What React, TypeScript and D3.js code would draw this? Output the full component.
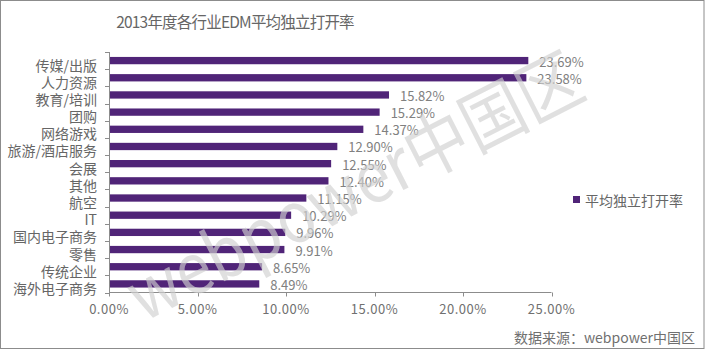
import React from "react";
import * as d3 from "d3";

const categories = [
  "传媒/出版",
  "人力资源",
  "教育/培训",
  "团购",
  "网络游戏",
  "旅游/酒店服务",
  "会展",
  "其他",
  "航空",
  "IT",
  "国内电子商务",
  "零售",
  "传统企业",
  "海外电子商务",
];
const values = [23.69, 23.58, 15.82, 15.29, 14.37, 12.9, 12.55, 12.4, 11.15, 10.29, 9.96, 9.91, 8.65, 8.49];
const xTicks = [0, 5, 10, 15, 20, 25];
const title = "2013年度各行业EDM平均独立打开率";
const seriesName = "平均独立打开率";
const source = "数据来源：webpower中国区";
const watermark = "webpower中国区";

const W = 705;
const H = 355;
const FONT = "'Noto Sans CJK SC', 'Noto Sans', sans-serif";
const BAR = "#502478";
const AXIS = "#8c8c8c";

export default function App() {
  const x = d3.scaleLinear().domain([0, 25]).range([109, 551.5]);
  const y = d3
    .scaleBand<string>()
    .domain(categories)
    .range([52, 292.5])
    .paddingInner(0.575)
    .paddingOuter(0.2875);
  const step = y.step();
  const y0 = 52;
  const yBottom = 292.5;
  const fmt = (v: number) => v.toFixed(2) + "%";

  return (
    <svg
      width={W}
      height={H}
      style={{ position: "absolute", left: 0, top: 0, background: "#fff" }}
      fontFamily={FONT}
    >
      <rect x={0} y={0} width={W} height={H} fill="#fff" />
      <rect x={0.5} y={0.5} width={703.5} height={348} fill="none" stroke="#8c8c8c" strokeWidth={1} />

      <text
        x={235}
        y={21}
        textAnchor="middle"
        dominantBaseline="central"
        fontSize={15.5}
        fill="#666"
        letterSpacing={-0.8}
      >
        {title}
      </text>

      {/* bars */}
      {categories.map((c, i) => (
        <rect key={c} x={x(0)} y={y(c)} width={x(values[i]) - x(0)} height={y.bandwidth()} fill={BAR} />
      ))}

      {/* y axis */}
      <line x1={x(0) + 0.5} x2={x(0) + 0.5} y1={y0} y2={yBottom} stroke={AXIS} />
      {d3.range(categories.length + 1).map((i) => (
        <line
          key={"yt" + i}
          x1={x(0) - 4}
          x2={x(0)}
          y1={Math.round(y0 + i * step) + 0.5}
          y2={Math.round(y0 + i * step) + 0.5}
          stroke={AXIS}
        />
      ))}
      {categories.map((c) => (
        <text
          key={"l" + c}
          x={97}
          y={(y(c) as number) + y.bandwidth() / 2 + 4}
          textAnchor="end"
          dominantBaseline="central"
          fontSize={14}
          fill="#666"
        >
          {c}
        </text>
      ))}

      {/* x axis */}
      <line x1={x(0)} x2={x(25)} y1={yBottom} y2={yBottom} stroke={AXIS} />
      {xTicks.map((t) => (
        <g key={"xt" + t}>
          <line x1={Math.round(x(t)) + 0.5} x2={Math.round(x(t)) + 0.5} y1={yBottom} y2={yBottom + 4} stroke={AXIS} />
          <text
            x={x(t)}
            y={308}
            textAnchor="middle"
            dominantBaseline="central"
            fontSize={13}
            fill="#707070"
            letterSpacing={0.5}
          >
            {fmt(t)}
          </text>
        </g>
      ))}

      {/* value labels */}
      {categories.map((c, i) => (
        <text
          key={"v" + c}
          x={x(values[i]) + 11}
          y={(y(c) as number) + y.bandwidth() / 2 + 0.5}
          dominantBaseline="central"
          fontSize={13}
          fill="#808080"
        >
          {fmt(values[i])}
        </text>
      ))}

      {/* legend */}
      <rect x={573} y={196} width={7} height={7} fill={BAR} />
      <text x={585} y={199.5} dominantBaseline="central" fontSize={14} fill="#666">
        {seriesName}
      </text>

      {/* source */}
      <text x={695} y={337} textAnchor="end" dominantBaseline="central" fontSize={14} fill="#707070">
        {source}
      </text>

      {/* watermark */}
      <text
        transform="translate(352,182) rotate(-27)"
        textAnchor="middle"
        dominantBaseline="central"
        fontSize={70}
        fill="#d0d0d0"
        fillOpacity={0.65}
        textLength={500}
        lengthAdjust="spacingAndGlyphs"
      >
        {watermark}
      </text>
    </svg>
  );
}
